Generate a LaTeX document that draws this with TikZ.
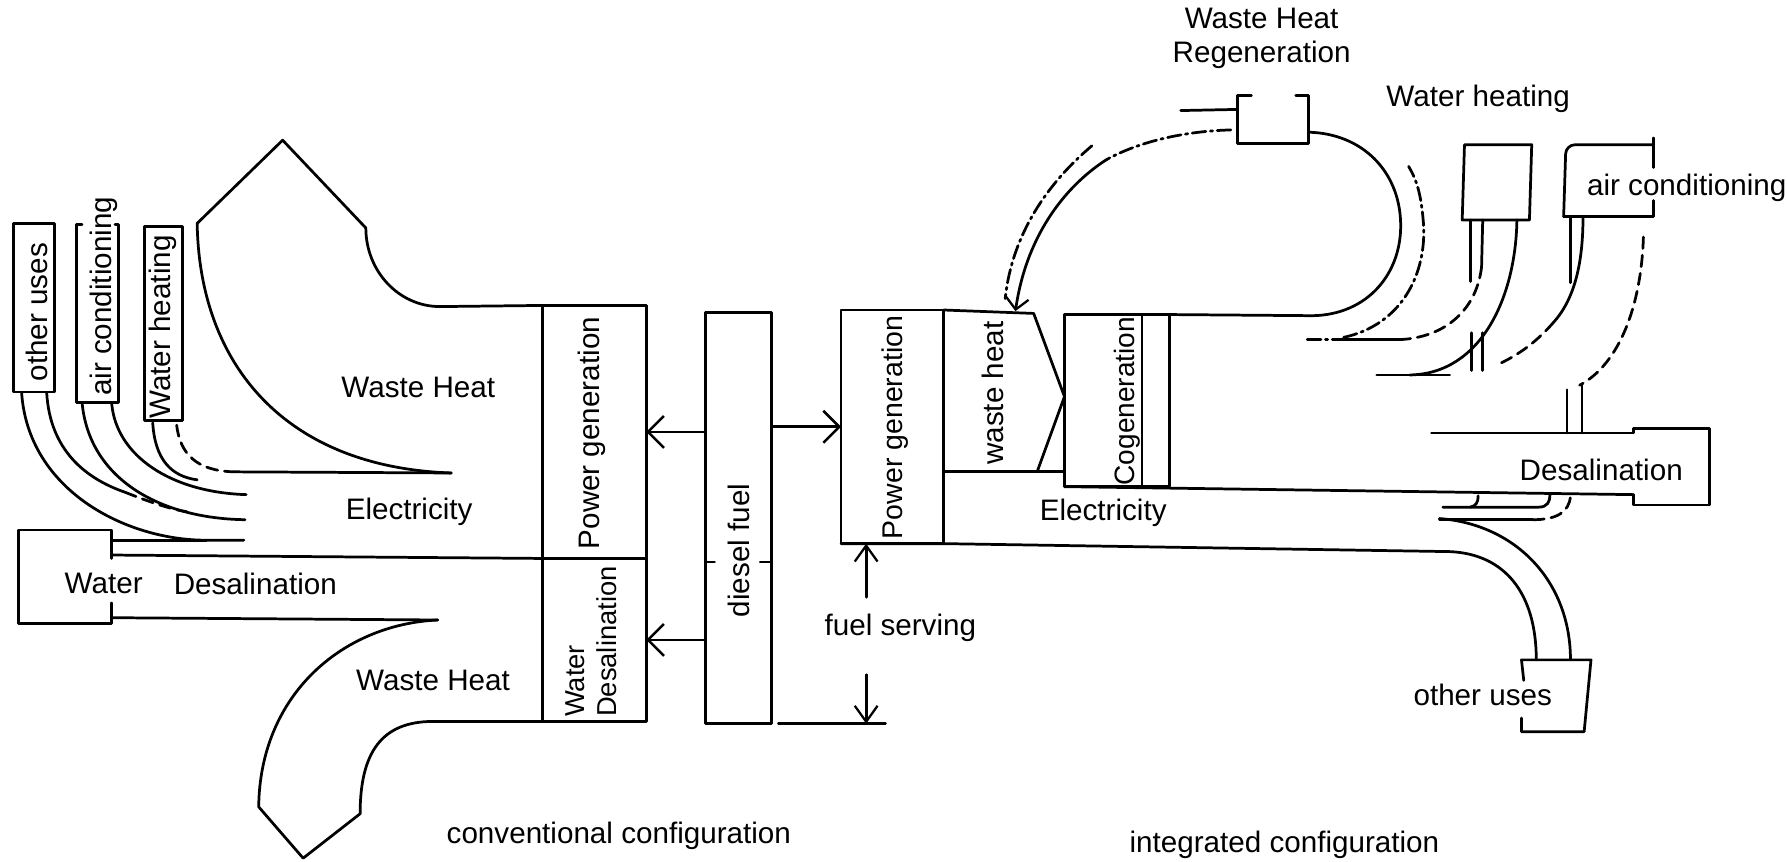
\documentclass[tikz,border=0pt]{standalone}
\usepackage{fontspec}
\setmainfont{Liberation Sans}
\usetikzlibrary{arrows.meta}
\begin{document}
\begin{tikzpicture}[x=0.5pt,y=-0.5pt,line width=1.2pt,line join=round,line cap=round,
  lbl/.style={font=\fontsize{13}{15}\selectfont,inner sep=0pt},
  vlbl/.style={lbl,rotate=90},
  box/.style={draw,inner sep=0pt,outer sep=0pt},
  dd/.style={dash pattern=on 6pt off 2pt on 1pt off 2pt},
  ds/.style={dash pattern=on 5pt off 3pt},
  arr/.style={-{Straight Barb[length=7pt,width=14pt,line width=1.1pt]}},
  arrs/.style={-{Straight Barb[length=7pt,width=10pt,line width=1pt]}},
  arrv/.style={-{Straight Barb[length=5pt,width=10pt,line width=1pt]}}]
\useasboundingbox (0,0) rectangle (1568,756);

% ---------- main boxes ----------
\node[box,minimum width=45.5pt,minimum height=111pt] (pgL) at (521.5,379) {};
\node[box,minimum width=45.5pt,minimum height=71.5pt] (wdL) at (521.5,561.5) {};
\node[box,minimum width=29pt,minimum height=180.5pt] (diesel) at (648,454.5) {};
\node[box,minimum width=45pt,minimum height=102.5pt] (pgR) at (783,374.5) {};
\node[box,minimum width=46pt,minimum height=75.5pt] (cogen) at (980,351.5) {};
\node[box,minimum width=18pt,minimum height=74pt] (ouL) at (30,270) {};
\node[box,minimum width=16.5pt,minimum height=85pt] (whL) at (143.5,284) {};

% air conditioning box (left), open top
\draw (72,197) -- (67,197) -- (67,353) -- (104,353) -- (104,197) -- (101,197);

% ---------- conventional configuration ----------
% upper waste heat
\draw (173,196) -- (248,123) -- (321,200) .. controls (321,238) and (350,269) .. (386,269) -- (pgL.north west);
\draw (173,196) .. controls (175,320) and (250,410) .. (396,415);
% water heating pipe
\draw[ds] (155,373) .. controls (158,398) and (172,413) .. (205,414);
\draw (205,414) -- (396,415);
\draw (134,371) .. controls (136,403) and (150,418) .. (173,421);
% air conditioning pipe
\draw (98,354) .. controls (102,400) and (150,432) .. (216,434);
\draw (72,353) .. controls (78,420) and (140,455) .. (215,456);
% other uses pipe
\draw (41,345) .. controls (44,395) and (75,420) .. (110,432);
\draw[ds] (110,432) .. controls (130,440) and (150,447) .. (164,449);
\draw (19,345) .. controls (25,430) and (110,474) .. (181,474) -- (214,474);
% water box and desalination band
\draw (98,490) -- (98,465) -- (16,465) -- (16,547) -- (98,547) -- (98,529);
\draw (98,474) -- (181,474);
\draw (98,487) -- (pgL.south west);
\draw (98,542) -- (384,544);
% lower waste heat
\draw (384,544) .. controls (300,548) and (228,610) .. (227,708) -- (266,753) -- (316,714)
  .. controls (316,660) and (335,633) .. (380,633) -- (wdL.south west);

% diesel arrows
\draw[arr] (diesel.west |- pgL.center) -- (pgL.east);
\draw[arr] (diesel.west |- wdL.center) -- (wdL.east);
\draw[arr] (diesel.east |- pgR.center) -- (pgR.west);
\draw (619,493) -- (627,493);
\draw (667,493) -- (677,493);

% fuel serving
\coordinate (fsU) at (760,524);
\coordinate (fsD) at (760,592);
\coordinate (gl1) at (683,635);
\coordinate (gl2) at (777,635);
\draw[arrs] (fsU) -- (fsU |- pgR.south);
\draw[arrs] (fsD) -- (fsD |- gl1);
\draw (gl1) -- (gl2);

% ---------- integrated configuration ----------
% waste heat chevron
\draw (pgR.north east) -- (907,275) -- (934,348) -- (910,414);
\draw (828,414) -- (934,414);
% cogeneration inner line
\draw (1002,276) -- (1002,427);
% regeneration loop
\draw (cogen.north east) -- (1152,277) .. controls (1200,276) and (1230,240) .. (1229,196)
  .. controls (1228,150) and (1195,117) .. (1148,116);
\draw (1098,84) -- (1086,84) -- (1086,126) -- (1148,126) -- (1148,84) -- (1137,84);
\draw (1086,96) -- (1036,97);
\draw[dd] (958,128) .. controls (920,160) and (888,205) .. (882,262);
\draw[dd] (1080,114) .. controls (1040,115) and (1000,124) .. (971,140);
\draw[arrv] (971,140) .. controls (932,165) and (900,210) .. (891,273);
\draw[dd] (1147,298) -- (1179,298);
\draw (1179,298) -- (1228,298);
\draw[dd] (1179,296) .. controls (1230,285) and (1252,240) .. (1249,196) .. controls (1247,170) and (1243,158) .. (1236,146);

% water heating (right)
\draw (1285,127) -- (1344,127) -- (1342,193) -- (1283,193) -- cycle;
\draw (1290,193) -- (1290,247);
\draw (1301,193) -- (1300,234);
\draw[ds] (1300,234) .. controls (1296,270) and (1270,296) .. (1228,298);
\draw (1331,193) .. controls (1330,260) and (1300,328) .. (1237,329);
\draw (1208,329) -- (1272,329);
\draw (1291,292) -- (1291,325);
\draw (1301,292) -- (1301,325);

% air conditioning (right)
\draw[rounded corners=4pt] (1372,190) -- (1374,127) -- (1451,127);
\draw (1451,176) -- (1451,190) -- (1372,190);
\draw (1451,121) -- (1451,147);
\draw (1378,190) -- (1378,248);
\draw (1389,190) .. controls (1389,230) and (1382,262) .. (1363,283);
\draw[ds] (1363,283) .. controls (1350,298) and (1335,310) .. (1316,319);
\draw[ds] (1442,208) .. controls (1440,270) and (1420,320) .. (1386,338);
\draw (1375,342) -- (1375,380);
\draw (1388,338) -- (1388,380);

% desalination (right)
\draw (1256,380) -- (1433,380) -- (1433,376) -- (1500,376) -- (1500,443) -- (1433,443) -- (1433,434);
\draw (cogen.south west) -- (1433,434);
\draw (1266,445) -- (1350,445) .. controls (1358,445) and (1360,440) .. (1360,434);
\draw (1297,435) .. controls (1297,441) and (1295,444) .. (1290,445);
\draw (1263,456) -- (1345,456);
\draw[ds] (1345,456) .. controls (1365,456) and (1377,450) .. (1378,435);

% other uses (right)
\draw (1263,455) .. controls (1330,460) and (1378,510) .. (1378,579);
\draw (pgR.south west) -- (pgR.south east) -- (1272,484) .. controls (1320,486) and (1348,520) .. (1348,579);
\draw (1337,597) -- (1335,579) -- (1396,579) -- (1390,642) -- (1335,642) -- (1335,630);

% ---------- labels ----------
\node[lbl] (t1) at (367,340) {Waste Heat};
\node[lbl] (t2) at (359,449) {Electricity};
\node[lbl] (t3) at (91,512) {Water};
\node[lbl] (t4) at (224,512) {Desalination};
\node[lbl] (t5) at (380,597) {Waste Heat};
\node[lbl] (t6) at (543,733) {conventional configuration};
\node[lbl] (t7) at (1127,741) {integrated configuration};
\node[lbl] (t8) at (790,551) {fuel serving};
\node[lbl] (t9) at (968,450) {Electricity};
\node[lbl] (t10) at (1405,412) {Desalination};
\node[lbl] (t11) at (1301,610) {other uses};
\node[lbl] (t12) at (1297,87) {Water heating};
\node[lbl] (t13) at (1480,165) {air conditioning};
\node[lbl,align=center] (t14) at (1107,34) {Waste Heat\\Regeneration};
\node[vlbl] (v1) at (32,274) {other uses};
\node[vlbl] (v2) at (91,260) {air conditioning};
\node[vlbl] (v3) at (143,287) {Water heating};
\node[vlbl] (v4) at (519,380) {Power generation};
\node[vlbl,align=left,font=\fontsize{12}{14}\selectfont] (v5) at (519,563) {Water\\Desalination};
\node[vlbl] (v6) at (648,483) {diesel fuel};
\node[vlbl,font=\fontsize{12.5}{14}\selectfont] (v7) at (785,375) {Power generation};
\node[vlbl] (v8) at (871,345) {waste heat};
\node[vlbl,font=\fontsize{12.3}{14}\selectfont] (v9) at (989,352) {Cogeneration};
\end{tikzpicture}
\end{document}
